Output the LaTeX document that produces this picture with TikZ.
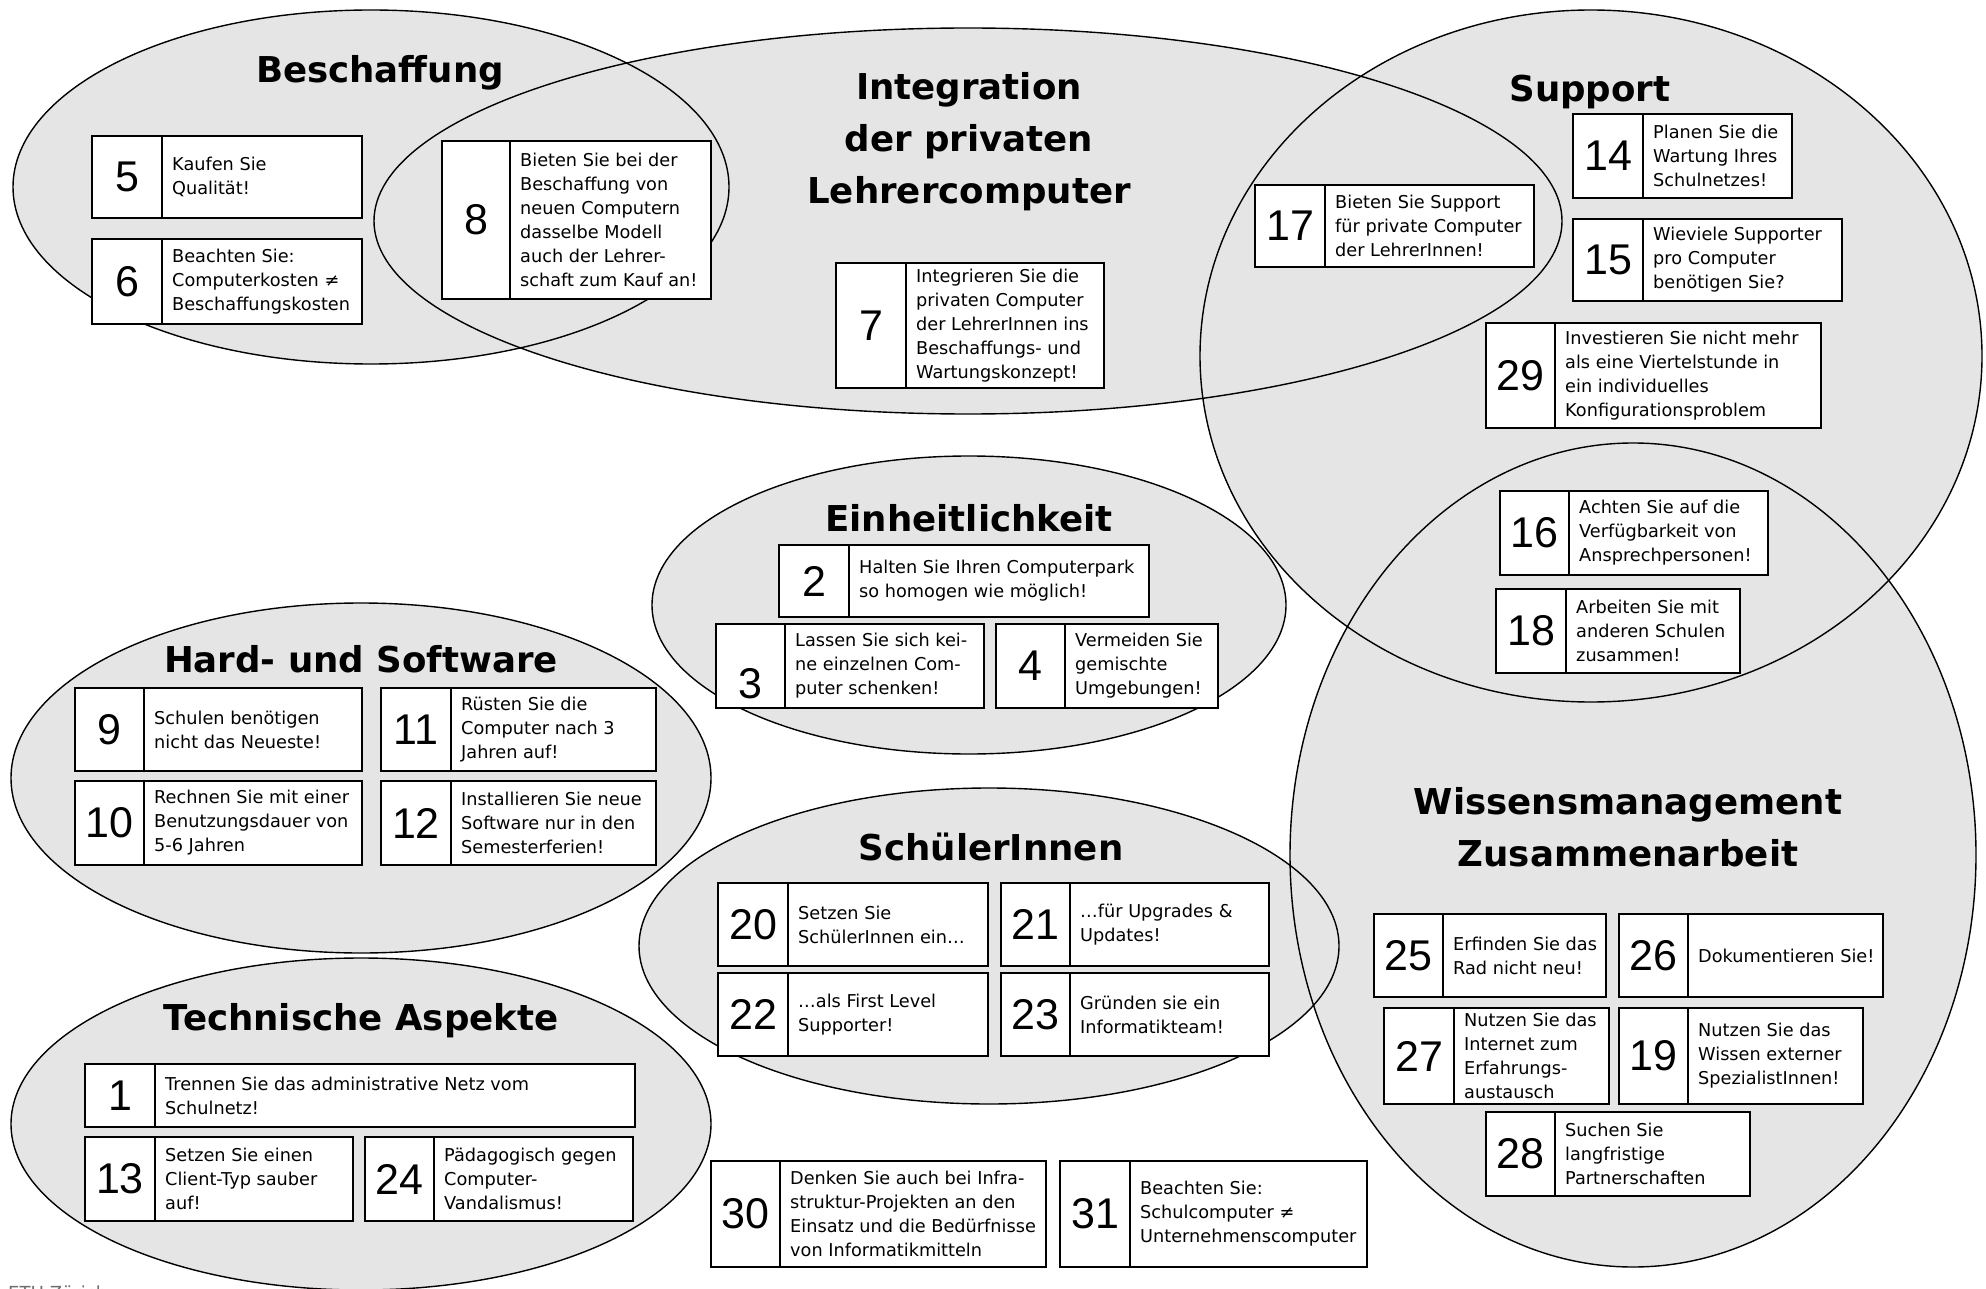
\documentclass[tikz,border=0pt]{standalone}
\usepackage{fontspec}
\setmainfont{DejaVu Sans}
\newfontfamily\numfamily{Liberation Sans}
\definecolor{areagray}{RGB}{229,229,229}
\definecolor{footgray}{RGB}{110,110,110}
\tikzset{
  area/.style={fill=areagray},
  rim/.style={draw=black,line width=1.4pt},
  tipbox/.style={draw=black,fill=white,line width=1.3pt,anchor=north west,inner sep=0pt,outer sep=0pt},
  divider/.style={draw=black,line width=1.3pt},
  tipnum/.style={inner sep=0pt,font=\numfamily\fontsize{43}{43}\selectfont},
  tiptext/.style={anchor=west,align=left,inner sep=0pt,font=\fontsize{17.7}{24}\selectfont},
  heading/.style={align=center,inner sep=0pt,font=\bfseries\fontsize{35.6}{52}\selectfont},
  footer/.style={inner sep=0pt,text=footgray,font=\fontsize{18}{20}\selectfont},
}
% \tip[number shift]{name}{x1}{y1}{x2}{y2}{divider x}{number}{text}
\newcommand\tip[9][0]{%
  \node[tipbox,minimum width=#5-#3,minimum height=#6-#4] (#2) at (#3,#4) {};
  \draw[divider] ([xshift=#7-#3]#2.north west) -- ([xshift=#7-#3]#2.south west);
  \node[tipnum] (#2-num) at ({(#3+#7)/2},{(#4+#6)/2+#1}) {#8};
  \node[tiptext] (#2-txt) at ({#7+10},{(#4+#6)/2}) {#9};
}
\begin{document}
\begin{tikzpicture}[x=1pt,y=-1pt]
\useasboundingbox (0,0) rectangle (1986,1289);
\fill[white] (0,0) rectangle (1986,1289);

% topic areas: fills first, outlines on top
\path[area] (371,187) ellipse [x radius=358, y radius=177];
\path[area] (968,221) ellipse [x radius=594, y radius=193];
\path[area] (1591,356) ellipse [x radius=391, y radius=346];
\path[area] (1633,855) ellipse [x radius=343, y radius=412];
\path[area] (969,605) ellipse [x radius=317, y radius=149];
\path[area] (361,778) ellipse [x radius=350, y radius=175];
\path[area] (989,946) ellipse [x radius=350, y radius=158];
\path[area] (361,1124) ellipse [x radius=350, y radius=166];

\path[rim] (371,187) ellipse [x radius=358, y radius=177];
\path[rim] (968,221) ellipse [x radius=594, y radius=193];
\path[rim] (1591,356) ellipse [x radius=391, y radius=346];
\path[rim] (1633,855) ellipse [x radius=343, y radius=412];
\path[rim] (969,605) ellipse [x radius=317, y radius=149];
\path[rim] (361,778) ellipse [x radius=350, y radius=175];
\path[rim] (989,946) ellipse [x radius=350, y radius=158];
\path[rim] (361,1124) ellipse [x radius=350, y radius=166];

% headings
\node[heading] (h-beschaffung) at (380,73) {Beschaffung};
\node[heading] (h-integration) at (969,142) {Integration\\der privaten\\Lehrercomputer};
\node[heading] (h-support) at (1590,92) {Support};
\node[heading] (h-einheit) at (969,518) {Einheitlichkeit};
\node[heading] (h-hardsoft) at (361,659) {Hard- und Software};
\node[heading] (h-schueler) at (991,847) {SchülerInnen};
\node[heading] (h-technik) at (361,1021) {Technische Aspekte};
\node[heading] (h-wissen) at (1628,827) {Wissensmanagement\\Zusammenarbeit};

% Beschaffung
\tip{t5}{92}{136}{362}{218}{162}{5}{Kaufen Sie\\Qualität!}
\tip{t6}{92}{239}{362}{324}{162}{6}{Beachten Sie:\\Computerkosten ≠\\Beschaffungskosten}
\tip{t8}{442}{141}{711}{299}{510}{8}{Bieten Sie bei der\\Beschaffung von\\neuen Computern\\dasselbe Modell\\auch der Lehrer-\\schaft zum Kauf an!}
% Integration
\tip{t7}{836}{263}{1104}{388}{906}{7}{Integrieren Sie die\\privaten Computer\\der LehrerInnen ins\\Beschaffungs- und\\Wartungskonzept!}
\tip{t17}{1255}{185}{1534}{267}{1325}{17}{Bieten Sie Support\\für private Computer\\der LehrerInnen!}
% Support
\tip{t14}{1573}{114}{1792}{198}{1643}{14}{Planen Sie die\\Wartung Ihres\\Schulnetzes!}
\tip{t15}{1573}{219}{1842}{301}{1643}{15}{Wieviele Supporter\\pro Computer\\benötigen Sie?}
\tip{t29}{1486}{323}{1821}{428}{1555}{29}{Investieren Sie nicht mehr\\als eine Viertelstunde in\\ein individuelles\\Konfigurationsproblem}
\tip{t16}{1500}{491}{1768}{575}{1569}{16}{Achten Sie auf die\\Verfügbarkeit von\\Ansprechpersonen!}
\tip{t18}{1496}{589}{1740}{673}{1566}{18}{Arbeiten Sie mit\\anderen Schulen\\zusammen!}
% Einheitlichkeit
\tip{t2}{779}{545}{1149}{617}{849}{2}{Halten Sie Ihren Computerpark\\so homogen wie möglich!}
\tip[18]{t3}{716}{624}{984}{708}{785}{3}{Lassen Sie sich kei-\\ne einzelnen Com-\\puter schenken!}
\tip{t4}{996}{624}{1218}{708}{1065}{4}{Vermeiden Sie\\gemischte\\Umgebungen!}
% Hard- und Software
\tip{t9}{75}{688}{362}{771}{144}{9}{Schulen benötigen\\nicht das Neueste!}
\tip{t11}{381}{688}{656}{771}{451}{11}{Rüsten Sie die\\Computer nach 3\\Jahren auf!}
\tip{t10}{75}{781}{362}{865}{144}{10}{Rechnen Sie mit einer\\Benutzungsdauer von\\5-6 Jahren}
\tip{t12}{381}{781}{656}{865}{451}{12}{Installieren Sie neue\\Software nur in den\\Semesterferien!}
% SchülerInnen
\tip{t20}{718}{883}{988}{966}{788}{20}{Setzen Sie\\SchülerInnen ein…}
\tip{t21}{1001}{883}{1269}{966}{1070}{21}{…für Upgrades \&\\Updates!}
\tip{t22}{718}{973}{988}{1056}{788}{22}{…als First Level\\Supporter!}
\tip{t23}{1001}{973}{1269}{1056}{1070}{23}{Gründen sie ein\\Informatikteam!}
% Technische Aspekte
\tip{t1}{85}{1064}{635}{1127}{155}{1}{Trennen Sie das administrative Netz vom\\Schulnetz!}
\tip{t13}{85}{1137}{353}{1221}{155}{13}{Setzen Sie einen\\Client-Typ sauber\\auf!}
\tip{t24}{365}{1137}{633}{1221}{434}{24}{Pädagogisch gegen\\Computer-\\Vandalismus!}
% boxes outside the areas
\tip{t30}{711}{1161}{1046}{1267}{780}{30}{Denken Sie auch bei Infra-\\struktur-Projekten an den\\Einsatz und die Bedürfnisse\\von Informatikmitteln}
\tip{t31}{1060}{1161}{1367}{1267}{1130}{31}{Beachten Sie:\\Schulcomputer ≠\\Unternehmenscomputer}
% Wissensmanagement
\tip{t25}{1374}{914}{1606}{997}{1443}{25}{Erfinden Sie das\\Rad nicht neu!}
\tip{t26}{1619}{914}{1883}{997}{1688}{26}{Dokumentieren Sie!}
\tip{t27}{1384}{1008}{1609}{1104}{1454}{27}{\fontsize{17.7}{23}\selectfont Nutzen Sie das\\Internet zum\\Erfahrungs-\\austausch}
\tip{t19}{1619}{1008}{1863}{1104}{1688}{19}{Nutzen Sie das\\Wissen externer\\SpezialistInnen!}
\tip{t28}{1486}{1112}{1750}{1196}{1555}{28}{Suchen Sie\\langfristige\\Partnerschaften}

% footer line, cut by the page edge
\begin{scope}
\clip (0,0) rectangle (1986,1289);
\node[footer,anchor=north west] (foot-l) at (8,1286) {ETH Zürich};
\end{scope}
\end{tikzpicture}
\end{document}
